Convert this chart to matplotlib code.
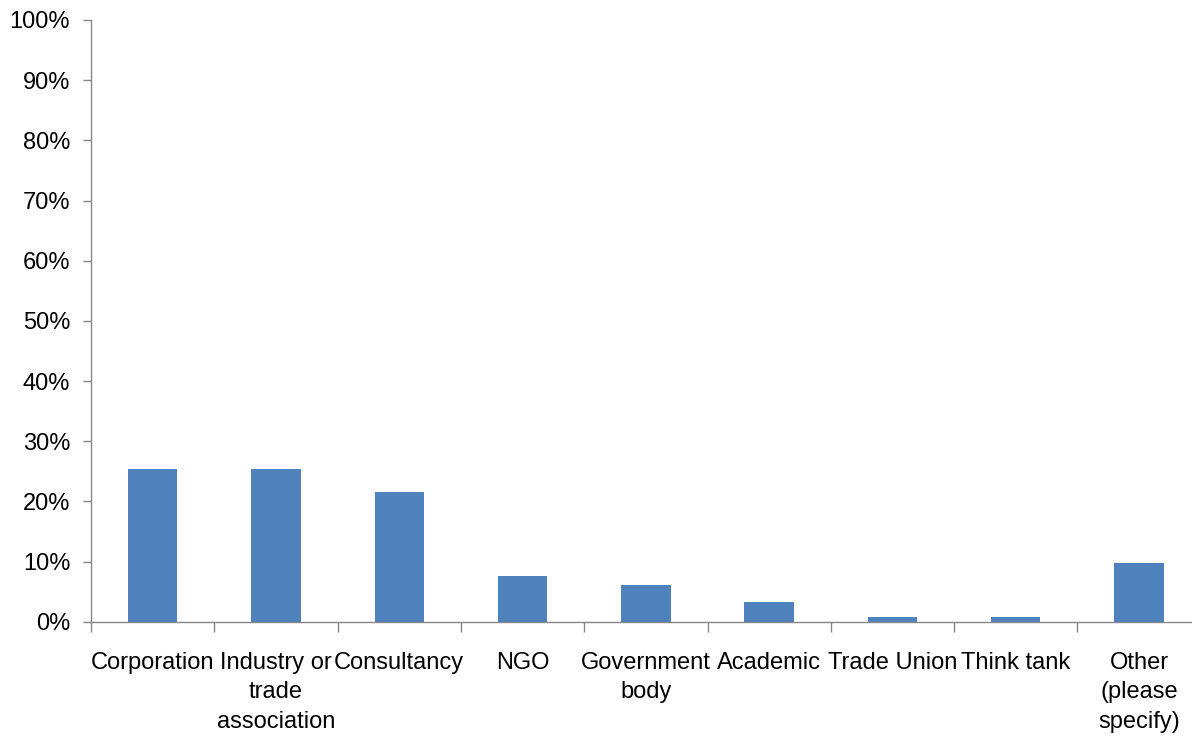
import matplotlib
matplotlib.use("Agg")
import matplotlib.pyplot as plt
from matplotlib.ticker import PercentFormatter, FixedLocator
import numpy as np

categories = ["Corporation", "Industry or\ntrade\nassociation", "Consultancy", "NGO",
              "Government\nbody", "Academic", "Trade Union", "Think tank",
              "Other\n(please\nspecify)"]
values = [25.4, 25.4, 21.6, 7.6, 6.1, 3.2, 0.8, 0.8, 9.7]
yticks = [0, 10, 20, 30, 40, 50, 60, 70, 80, 90, 100]

plt.rcParams['font.family'] = ['Liberation Sans', 'DejaVu Sans']

W, H = 1192, 737
fig = plt.figure(figsize=(W/100, H/100), dpi=100)
ax = fig.add_axes([91/W, (H-621.7)/H, 9*123.3/W, (621.7-20)/H])

axis_color = "#868686"
x = np.arange(len(categories))
ax.bar(x, values, width=0.4, color="#4F81BD", zorder=2)

ax.set_xlim(-0.5, len(categories)-0.5)
ax.set_ylim(0, 100)
ax.set_yticks(yticks)
ax.yaxis.set_major_formatter(PercentFormatter(decimals=0))

ax.set_xticks(x)
ax.set_xticklabels(categories, linespacing=1.42)
ax.xaxis.set_minor_locator(FixedLocator(np.arange(-0.5, len(categories), 1.0)))

for s in ["top", "right"]:
    ax.spines[s].set_visible(False)
for s in ["left", "bottom"]:
    ax.spines[s].set_color(axis_color)
    ax.spines[s].set_linewidth(1.0)

ax.tick_params(axis="y", length=6, width=1, color=axis_color, pad=9, labelsize=17, labelcolor="black")
ax.tick_params(axis="x", which="major", length=0, pad=22, labelsize=17, labelcolor="black")
ax.tick_params(axis="x", which="minor", length=7, width=1, color=axis_color)

fig.savefig("out.png", dpi=100, facecolor="white")
